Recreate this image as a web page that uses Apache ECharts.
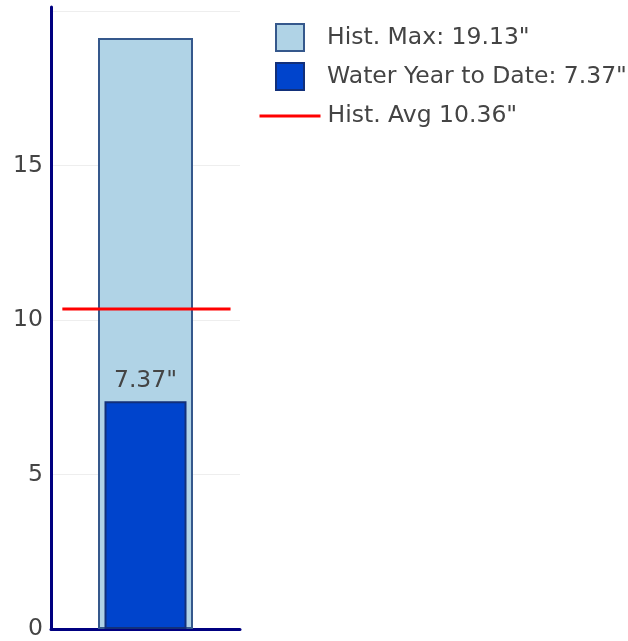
<!DOCTYPE html>
<html>
<head>
<meta charset="utf-8">
<script src="https://cdn.jsdelivr.net/npm/echarts@6/dist/echarts.min.js"></script>
<style>
html,body{margin:0;padding:0;background:#fff;}
#chart{width:628px;height:641px;}
</style>
</head>
<body>
<div id="chart"></div>
<script>
const categories = ['Precip'];
const histMaxName = 'Hist. Max: 19.13"';
const wytdName = 'Water Year to Date: 7.37"';
const avgName = 'Hist. Avg 10.36"';
const histMaxValues = [19.13];
const wytdValues = [7.37];
const avgValue = 10.36;
const avgLineX = [-0.44, 0.45];
const yTicks = [0, 5, 10, 15];

const FONT = "'DejaVu Sans', Verdana, sans-serif";
const FS = 23.5;
const chart = echarts.init(document.getElementById('chart'), null, {renderer: 'canvas'});

const option = {
  animation: false,
  backgroundColor: '#fff',
  grid: {left: 51, right: 388, top: 7, bottom: 12, containLabel: false},
  legend: [
    {
      data: [histMaxName], left: 270, top: 18, orient: 'vertical',
      itemWidth: 28, itemHeight: 27, icon: 'rect', selectedMode: false,
      textStyle: {fontFamily: FONT, fontSize: FS, color: '#444', padding: [5, 0, 0, 18]}
    },
    {
      data: [wytdName], left: 270, top: 57, orient: 'vertical',
      itemWidth: 28, itemHeight: 27, icon: 'rect', selectedMode: false,
      textStyle: {fontFamily: FONT, fontSize: FS, color: '#444', padding: [5, 0, 0, 18]}
    },
    {
      data: [avgName], left: 253, top: 99, orient: 'vertical',
      itemWidth: 61, itemHeight: 14, selectedMode: false,
      itemStyle: {opacity: 0},
      lineStyle: {width: 3, color: '#ff0000'},
      textStyle: {fontFamily: FONT, fontSize: FS, color: '#444', padding: [0, 0, 0, 2]}
    }
  ],
  xAxis: [
    {type: 'category', data: categories, axisLine: {show: true, onZero: false, lineStyle: {color: '#000080', width: 3}},
     axisTick: {show: false}, axisLabel: {show: false}, splitLine: {show: false}},
    {type: 'category', data: categories, show: false},
    {type: 'value', min: -0.5, max: 0.5, show: false}
  ],
  yAxis: {
    type: 'value', min: 0, max: 20.13, interval: 5,
    axisLine: {show: true, onZero: false, lineStyle: {color: '#000080', width: 3}},
    axisTick: {show: false},
    axisLabel: {
      fontFamily: FONT, fontSize: FS, color: '#444', margin: 8, showMaxLabel: false,
      padding: [7, 0, 0, 0],
      formatter: v => (yTicks.indexOf(v) >= 0 ? String(v) : '')
    },
    splitLine: {show: true, showMaxLine: false, lineStyle: {color: '#eeeeee', width: 1}}
  },
  series: [
    {
      name: histMaxName, type: 'bar', xAxisIndex: 0, data: histMaxValues, barWidth: 95,
      itemStyle: {color: '#b0d3e6', borderColor: '#35588c', borderWidth: 2},
      z: 2
    },
    {
      name: wytdName, type: 'bar', xAxisIndex: 1, data: wytdValues, barWidth: 82,
      itemStyle: {color: '#0044cc', borderColor: '#12307a', borderWidth: 2},
      label: {show: true, position: 'top', distance: 8, fontFamily: FONT, fontSize: FS, color: '#444',
              formatter: p => p.value + '"'},
      z: 3
    },
    {
      name: avgName, type: 'line', xAxisIndex: 2, symbol: 'none', showSymbol: false,
      data: avgLineX.map(x => [x, avgValue]),
      lineStyle: {color: '#ff0000', width: 3},
      itemStyle: {color: '#ff0000'},
      z: 4
    }
  ]
};
chart.setOption(option);
</script>
</body>
</html>
